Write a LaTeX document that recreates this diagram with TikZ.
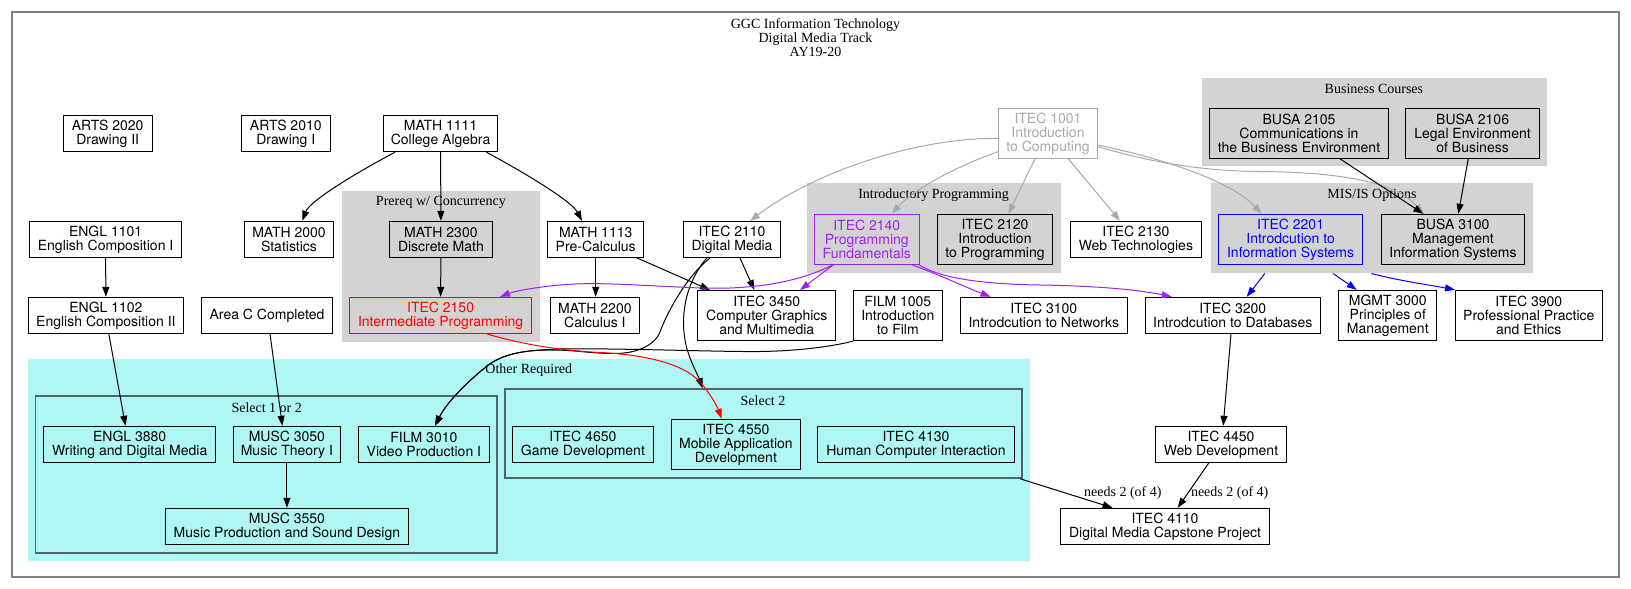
\documentclass[tikz,border=0pt]{standalone}
\usepackage{fontspec}
\setmainfont{Liberation Serif}
\newfontfamily\hv{TeX Gyre Heros}
\usetikzlibrary{arrows.meta,calc}
\definecolor{clgray}{HTML}{D3D3D3}
\definecolor{cyanbg}{RGB}{175,247,243}
\definecolor{selbd}{RGB}{80,102,102}
\definecolor{gvpurple}{HTML}{A020F0}
\definecolor{gvgray}{HTML}{A9A9A9}
\definecolor{framegray}{HTML}{808080}
\begin{document}
\begin{tikzpicture}[x=1pt,y=-1pt,
  box/.style={draw=black, line width=1pt, rectangle, inner sep=0pt, align=center,
    minimum height=36pt, font=\hv\fontsize{14}{14}\selectfont},
  tall/.style={minimum height=50pt},
  gfill/.style={fill=clgray},
  clus/.style={rectangle, inner sep=0pt, draw=none},
  sel/.style={clus, draw=selbd, line width=1.6pt},
  clab/.style={inner sep=0pt, font=\fontsize{14}{14}\selectfont},
  edge/.style={-{Triangle[length=10pt,width=7pt]}, line width=1pt, black},
  gedge/.style={edge, gvgray},
  pedge/.style={edge, gvpurple},
  bedge/.style={edge, blue},
  redge/.style={edge, red}]
\useasboundingbox (0,0) rectangle (1631,589);
\fill[white] (0,0) rectangle (1631,589);
\node[clus, draw=framegray, line width=2pt, minimum width=1607pt, minimum height=564.5pt] (frame) at (815.5,294.25) {};
\node[clab, align=center] (title) at (815.5,37.3) {GGC Information Technology\\Digital Media Track\\AY19-20};

% clusters
\node[clus, fill=clgray, minimum width=345.6pt, minimum height=88.3pt] (busc) at (1374.4,121.85) {};
\node[clab] (busclab) at (1373.9,89.3) {Business Courses};
\node[clus, fill=clgray, minimum width=198.8pt, minimum height=151.6pt] (prereq) at (440.9,266.5) {};
\node[clab] (prereqlab) at (440.9,202.3) {Prereq w/ Concurrency};
\node[clus, fill=clgray, minimum width=254pt, minimum height=90pt] (intro) at (933.7,228.3) {};
\node[clab] (introlab) at (933.5,195.5) {Introductory Programming};
\node[clus, fill=clgray, minimum width=322.6pt, minimum height=90pt] (mis) at (1372,228.3) {};
\node[clab] (mislab) at (1372,195.5) {MIS/IS Options};
\node[clus, fill=cyanbg, minimum width=1002.3pt, minimum height=202.5pt] (other) at (528.85,459.75) {};
\node[clab] (otherlab) at (528.8,370.3) {Other Required};
\node[sel, minimum width=461.3pt, minimum height=157pt] (sel1) at (266.25,474.2) {};
\node[clab] (sel1lab) at (266.7,407.3) {Select 1 or 2};
\node[sel, minimum width=517.3pt, minimum height=89pt] (sel2) at (763.35,433.5) {};
\node[clab] (sel2lab) at (763,400.3) {Select 2};

% nodes
\node[box, minimum width=89pt] (arts2020) at (107.7,133.7) {ARTS 2020\\Drawing II};
\node[box, minimum width=88.4pt] (arts2010) at (285.8,133.7) {ARTS 2010\\Drawing I};
\node[box, minimum width=114.5pt] (math1111) at (440.6,133.7) {MATH 1111\\College Algebra};
\node[box, tall, draw=gvgray, text=gvgray, minimum width=99pt] (itec1001) at (1048,133.3) {ITEC 1001\\Introduction\\to Computing};
\node[box, tall, gfill, minimum width=179pt] (busa2105) at (1299,133.3) {BUSA 2105\\Communications in\\the Business Environment};
\node[box, tall, gfill, minimum width=133.5pt] (busa2106) at (1472.6,133.3) {BUSA 2106\\Legal Environment\\of Business};

\node[box, minimum width=151.7pt] (engl1101) at (105.6,239.3) {ENGL 1101\\English Composition I};
\node[box, minimum width=89.5pt] (math2000) at (289,239.3) {MATH 2000\\Statistics};
\node[box, gfill, minimum width=102.6pt] (math2300) at (440.9,239.3) {MATH 2300\\Discrete Math};
\node[box, minimum width=96.2pt] (math1113) at (595.7,239.3) {MATH 1113\\Pre-Calculus};
\node[box, minimum width=96.7pt] (itec2110) at (732,239.5) {ITEC 2110\\Digital Media};
\node[box, tall, draw=gvpurple, text=gvpurple, minimum width=105pt] (itec2140) at (866.8,239.3) {ITEC 2140\\Programming\\Fundamentals};
\node[box, tall, gfill, minimum width=115.7pt] (itec2120) at (995,239.3) {ITEC 2120\\Introduction\\to Programming};
\node[box, minimum width=130.4pt] (itec2130) at (1135.9,239.3) {ITEC 2130\\Web Technologies};
\node[box, tall, draw=blue, text=blue, minimum width=143.5pt] (itec2201) at (1290.6,239.3) {ITEC 2201\\Introdcution to\\Information Systems};
\node[box, tall, gfill, minimum width=143.5pt] (busa3100) at (1453,239.3) {BUSA 3100\\Management\\Information Systems};

\node[box, minimum width=155.3pt] (engl1102) at (105.9,315.3) {ENGL 1102\\English Composition II};
\node[box, minimum width=131.3pt] (areac) at (267,315.3) {Area C Completed};
\node[box, draw=red, text=red, minimum width=182.5pt] (itec2150) at (440.6,315.3) {ITEC 2150\\Intermediate Programming};
\node[box, minimum width=89.4pt] (math2200) at (594.9,315.3) {MATH 2200\\Calculus I};
\node[box, tall, minimum width=137.7pt] (itec3450) at (766.8,315.5) {ITEC 3450\\Computer Graphics\\and Multimedia};
\node[box, tall, minimum width=89pt] (film1005) at (897.8,315.5) {FILM 1005\\Introduction\\to Film};
\node[box, minimum width=167pt] (itec3100) at (1043.8,315.3) {ITEC 3100\\Introdcution to Networks};
\node[box, minimum width=175.5pt] (itec3200) at (1232.8,315.3) {ITEC 3200\\Introdcution to Databases};
\node[box, tall, minimum width=98pt] (mgmt3000) at (1387.8,315.3) {MGMT 3000\\Principles of\\Management};
\node[box, tall, minimum width=147.6pt] (itec3900) at (1528.8,315.3) {ITEC 3900\\Professional Practice\\and Ethics};

\node[box, minimum width=171.6pt] (engl3880) at (129.7,444.3) {ENGL 3880\\Writing and Digital Media};
\node[box, minimum width=107.2pt] (musc3050) at (286.9,444.3) {MUSC 3050\\Music Theory I};
\node[box, minimum width=130.2pt] (film3010) at (423.9,444.3) {FILM 3010\\Video Production I};
\node[box, minimum width=242.2pt] (musc3550) at (286.9,526.3) {MUSC 3550\\Music Production and Sound Design};
\node[box, minimum width=140.6pt] (itec4650) at (582.9,444.3) {ITEC 4650\\Game Development};
\node[box, tall, minimum width=128.7pt] (itec4550) at (735.9,444.3) {ITEC 4550\\Mobile Application\\Development};
\node[box, minimum width=196.3pt] (itec4130) at (916,444.3) {ITEC 4130\\Human Computer Interaction};
\node[box, minimum width=131pt] (itec4450) at (1221,444.3) {ITEC 4450\\Web Development};
\node[box, minimum width=208.4pt] (itec4110) at (1165,526.3) {ITEC 4110\\Digital Media Capstone Project};

\node[clab] (lab1) at (1122.8,493.3) {needs 2 (of 4)};
\node[clab] (lab2) at (1229.7,493.3) {needs 2 (of 4)};

% gray edges from ITEC 1001
\draw[gedge] ($(itec1001.west)+(0,5)$) .. controls (910,138) and (810,175) .. ($(itec2110.north)+(18,0)$);
\draw[gedge] ($(itec1001.west)+(0,18.4)$) .. controls (960,165) and (915,188) .. ($(itec2140.north)+(24.9,0)$);
\draw[gedge] ($(itec1001.south)+(-13,0)$) -- ($(itec2120.north)+(13.3,0)$);
\draw[gedge] ($(itec1001.south)+(20.3,0)$) -- ($(itec2130.north)+(-15.9,0)$);
\draw[gedge] ($(itec1001.east)+(0,11.7)$) .. controls (1160,158) and (1230,180) .. ($(itec2201.north)+(-28.9,0)$);
\draw[gedge] ($(itec1001.east)+(0,13.4)$) .. controls (1150,162) and (1200,171) .. (1260,171.5) .. controls (1330,172) and (1395,180) .. ($(busa3100.north)+(-29.7,0)$);

% black edges
\draw[edge] ($(math1111.south)+(-45.6,0)$) .. controls (365,168) and (310,200) .. ($(math2000.north)+(13.3,0)$);
\draw[edge] (math1111.south) -- (math2300.north);
\draw[edge] ($(math1111.south)+(45.8,0)$) .. controls (516,168) and (571,200) .. ($(math1113.north)+(-13.7,0)$);
\draw[edge] (engl1101.south) -- (engl1102.north);
\draw[edge] (math2300.south) -- (itec2150.north);
\draw[edge] (math1113.south) -- (math1113.south |- math2200.north);
\draw[edge] ($(math1113.south)+(41,0)$) -- ($(itec3450.north)+(-56.8,0)$);
\draw[edge] ($(itec2110.south)+(8,0)$) -- ($(itec3450.north)+(-12.5,0)$);
\draw[edge] ($(itec2110.south)+(-22,0)$) .. controls (688,275) and (668,310) .. (660,332)
  .. controls (656,343) and (640,353.5) .. (615,353.5)
  .. controls (590,353.5) and (575,350) .. (553,350)
  .. controls (530,350) and (505,352) .. (487,366)
  .. controls (472,378) and (448,400) .. ($(film3010.north)+(11.1,0)$);
\draw[edge] ($(film1005.south)+(-44.5,0)$) .. controls (835,346) and (800,351) .. (760,351.5)
  .. controls (720,352) and (620,348) .. (560,349)
  .. controls (530,350) and (505,352) .. (487,366)
  .. controls (472,378) and (448,400) .. ($(film3010.north)+(11.1,0)$);
\draw[edge] ($(itec2110.south)+(-25.3,0)$) .. controls (688,280) and (680,310) .. (685,340)
  .. controls (688,358) and (698,375) .. ($(sel2.north west)+(198.6,0)$);
\draw[edge] ($(areac.south)+(3,0)$) -- ($(musc3050.north)+(-4.5,0)$);
\draw[edge] ($(engl1102.south)+(2.9,0)$) -- ($(engl3880.north)+(-4.2,0)$);
\draw[edge] (musc3050.south) -- (musc3550.north);
\draw[edge] ($(itec3200.south)+(-1.8,0)$) -- ($(itec4450.north)+(2.2,0)$);
\draw[edge] ($(itec4450.south)+(-12.1,0)$) -- ($(itec4110.north)+(12.7,0)$);
\draw[edge] ($(sel2.south east)+(-2.6,0)$) -- ($(itec4110.north)+(-52.4,0)$);
\draw[edge] ($(busa2105.south)+(41,0)$) -- ($(busa3100.north)+(-29.7,0)$);
\draw[edge] ($(busa2106.south)+(-4.3,0)$) -- ($(busa3100.north)+(5.3,0)$);

% red edge
\draw[redge] ($(itec2150.south)+(46.1,0)$) .. controls (510,341) and (550,350) .. (600,352.5)
  .. controls (640,354.5) and (682,362) .. (700,382)
  .. controls (710,393) and (717,406) .. ($(itec4550.north)+(-14.2,0)$);

% purple edges
\draw[pedge] ($(itec2140.south)+(-33.5,0)$) .. controls (810,276) and (780,286) .. (730,288)
  .. controls (690,289.6) and (620,282) .. (575,284)
  .. controls (545,285.3) and (515,291) .. ($(itec2150.north)+(59.4,0)$);
\draw[pedge] ($(itec2140.south)+(-33.5,0)$) -- ($(itec3450.north)+(33.2,0)$);
\draw[pedge] ($(itec2140.south)+(45.2,0)$) .. controls (940,275) and (965,287) .. ($(itec3100.north)+(-53.2,0)$);
\draw[pedge] ($(itec2140.south)+(52.2,0)$) .. controls (940,278) and (980,284) .. (1040,285)
  .. controls (1100,286) and (1140,290) .. ($(itec3200.north)+(-61.1,0)$);

% blue edges (from cluster border)
\draw[bedge] ($(mis.south west)+(54.3,0)$) -- ($(itec3200.north)+(13.9,0)$);
\draw[bedge] ($(mis.south west)+(122.6,0)$) -- ($(mgmt3000.north)+(-31.1,0)$);
\draw[bedge] ($(mis.south west)+(161,0)$) .. controls (1400,281) and (1430,285) .. ($(itec3900.north)+(-73.8,0)$);
\end{tikzpicture}
\end{document}
